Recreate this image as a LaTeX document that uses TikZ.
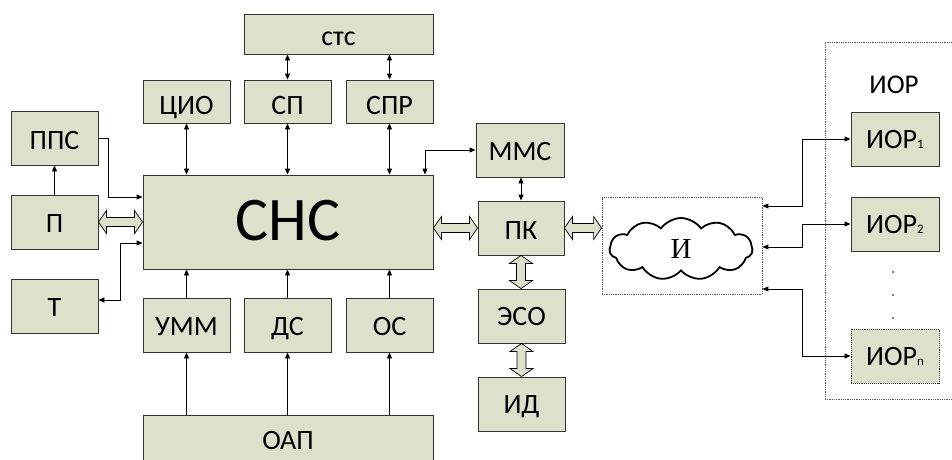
\documentclass[tikz,border=0pt]{standalone}
\usepackage{fontspec}
\setmainfont{Carlito}
\newfontfamily\serifru{Liberation Serif}
\usetikzlibrary{shapes.symbols,arrows.meta,calc}
\definecolor{boxfill}{HTML}{DDE0CB}
\definecolor{boxline}{HTML}{333333}
\newcommand{\fatH}[2]{\draw[fat] let \p1=(#1), \p2=(#2) in (\x1,\y1) -- ++(8pt,11.5pt) -- ++(0pt,-7pt) -- (\x2-8pt,\y1+4.5pt) -- ++(0pt,7pt) -- (\x2,\y1) -- ++(-8pt,-11.5pt) -- ++(0pt,7pt) -- (\x1+8pt,\y1-4.5pt) -- ++(0pt,-7pt) -- cycle;}
\newcommand{\fatV}[2]{\draw[fat] let \p1=(#1), \p2=(#2) in (\x1,\y1) -- ++(11.5pt,-8pt) -- ++(-7pt,0pt) -- (\x1+4.5pt,\y2+8pt) -- ++(7pt,0pt) -- (\x1,\y2) -- ++(-11.5pt,8pt) -- ++(7pt,0pt) -- (\x1-4.5pt,\y1-8pt) -- ++(-7pt,0pt) -- cycle;}
\newcommand{\sbs}[1]{{\fontsize{13}{13}\selectfont #1}}
\tikzset{
 box/.style={draw=boxline, line width=0.9pt, fill=boxfill, inner sep=0pt, minimum width=87pt, minimum height=54pt, font=\fontsize{28}{30}\selectfont, text height=20pt, text depth=0pt},
 toprow/.style={minimum height=43pt, text height=26pt},
 arr/.style={-{Triangle[length=6pt,width=5pt]}, line width=0.9pt},
 darr/.style={{Triangle[length=6pt,width=5pt]}-{Triangle[length=6pt,width=5pt]}, line width=0.9pt},
 fat/.style={draw=black, line width=0.7pt, fill=boxfill},
 dotbox/.style={draw=gray!70!black, densely dotted, line width=0.8pt, inner sep=0pt},
 dotnode/.style={circle, fill=black, inner sep=0pt, minimum size=1.8pt},
}
\begin{document}
\begin{tikzpicture}[x=1pt,y=-1pt]
\useasboundingbox (0,0) rectangle (952,459);
% boxes
\node[box, minimum width=189pt, minimum height=40pt, text height=22pt] (stc) at (338.5,34) {стс};
\node[box, toprow] (cio) at (186.5,101.5) {ЦИО};
\node[box, toprow] (sp) at (287.5,101.5) {СП};
\node[box, toprow] (spr) at (389.5,101.5) {СПР};
\node[box, text height=22pt] (pps) at (54.5,138) {ППС};
\node[box] (p) at (54.5,222) {П};
\node[box] (t) at (54.5,306) {Т};
\node[box, minimum width=290pt, minimum height=94pt, font=\fontsize{62}{64}\selectfont, text height=36pt] (snc) at (288,222) {СНС};
\node[box] (umm) at (186.5,325) {УММ};
\node[box] (ds) at (287.5,325) {ДС};
\node[box] (os) at (389.5,325) {ОС};
\node[box, minimum width=290pt, minimum height=50pt, text height=18pt] (oap) at (288,440) {ОАП};
\node[box, minimum width=88pt] (mmc) at (520,150) {ММС};
\node[box, minimum width=86pt, text height=22pt] (pk) at (521,228) {ПК};
\node[box, text height=18pt] (eso) at (521.5,316) {ЭСО};
\node[box, text height=18pt] (id) at (521.5,404) {ИД};
% internet
\node[dotbox, minimum width=160pt, minimum height=97pt] (ibox) at (682,245.5) {};
\node[cloud, draw, line width=1.8pt, cloud puffs=11, cloud puff arc=110, aspect=2.3, cloud ignores aspect, minimum width=143pt, minimum height=62pt, inner sep=0pt, font=\serifru\fontsize{29}{30}\selectfont] (cloud) at (681,249) {И};
% IOR group
\node[dotbox, minimum width=135pt, minimum height=357pt] (iorbox) at (892.5,220.5) {};
\node[font=\fontsize{27}{28}\selectfont, text height=20pt, text depth=0pt, inner sep=0pt] (iorlbl) at (894,83.5) {ИОР};
\node[box, minimum width=88pt, text height=19pt] (ior1) at (895,139) {ИОР\sbs{1}};
\node[box, minimum width=88pt, text height=19pt] (ior2) at (895,224) {ИОР\sbs{2}};
\node[box, minimum width=88pt, text height=19pt, densely dotted] (iorn) at (895,356) {ИОР\sbs{n}};
\node[dotnode] (dot1) at (893,272) {};
\node[dotnode] (dot2) at (893,295) {};
\node[dotnode] (dot3) at (893,318) {};
% helper coordinates
\coordinate (c1) at (108,197);
\coordinate (c2) at (120,243);
\coordinate (c3) at (120,300);
\coordinate (c4) at (425,150);
\coordinate (r1) at (802,206);
\coordinate (r2) at (802,247);
\coordinate (r3) at (802,289);
% thin connectors
\draw[darr] (stc.south -| sp.north) -- (sp.north);
\draw[darr] (stc.south -| spr.north) -- (spr.north);
\draw[darr] (cio.south) -- (cio.south |- snc.north);
\draw[darr] (sp.south) -- (sp.south |- snc.north);
\draw[darr] (spr.south) -- (spr.south |- snc.north);
\draw[arr] (p.north) -- (pps.south);
\draw[arr] (pps.east) -| (c1) -- (c1 -| snc.west);
\draw[darr] (c2 -| snc.west) -- (c2) -- (c3) -- (c3 -| t.east);
\draw[darr] (c4 |- snc.north) -- (c4) -- (mmc.west);
\draw[darr] (pk.north) -- (pk.north |- mmc.south);
\draw[arr] (umm.north) -- (umm.north |- snc.south);
\draw[arr] (ds.north) -- (ds.north |- snc.south);
\draw[arr] (os.north) -- (os.north |- snc.south);
\draw[arr] (umm.south |- oap.north) -- (umm.south);
\draw[arr] (ds.south |- oap.north) -- (ds.south);
\draw[arr] (os.south |- oap.north) -- (os.south);
\draw[darr] (r1 -| ibox.east) -- (r1) |- (ior1.west);
\draw[darr] (r2 -| ibox.east) -- (r2) |- (ior2.west);
\draw[darr] (r3 -| ibox.east) -- (r3) |- (iorn.west);
% fat double arrows
\fatH{p.east}{snc.west}
\fatH{snc.east |- pk.west}{pk.west}
\fatH{pk.east}{pk.east -| ibox.west}
\fatV{pk.south}{eso.north}
\fatV{eso.south}{id.north}
\end{tikzpicture}
\end{document}
